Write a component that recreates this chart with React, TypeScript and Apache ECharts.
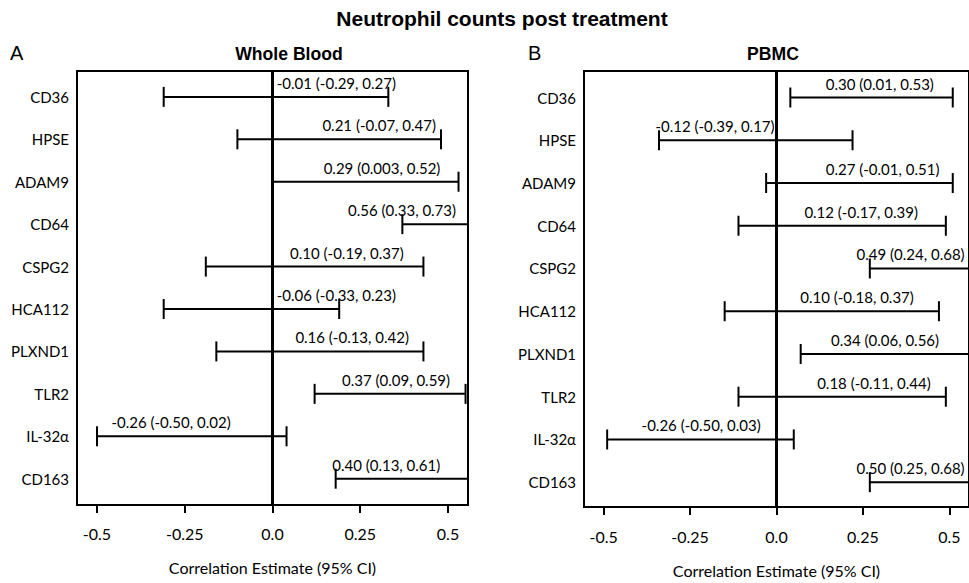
import React, { useEffect, useRef } from "react";
import * as echarts from "echarts";

// ---------- data ----------
const genes = ["CD36", "HPSE", "ADAM9", "CD64", "CSPG2", "HCA112", "PLXND1", "TLR2", "IL-32α", "CD163"];
const xTicks = [-0.5, -0.25, 0, 0.25, 0.5];
const xTickLabels = ["-0.5", "-0.25", "0.0", "0.25", "0.5"];

// Whole Blood: printed estimate and CI text
const wbEstimate = ["-0.01", "0.21", "0.29", "0.56", "0.10", "-0.06", "0.16", "0.37", "-0.26", "0.40"];
const wbCiLow = ["-0.29", "-0.07", "0.003", "0.33", "-0.19", "-0.33", "-0.13", "0.09", "-0.50", "0.13"];
const wbCiHigh = ["0.27", "0.47", "0.52", "0.73", "0.37", "0.23", "0.42", "0.59", "0.02", "0.61"];
// Whole Blood: interval bars as drawn
const wbBarLow = [-0.31, -0.1, 0.0, 0.37, -0.19, -0.31, -0.16, 0.12, -0.5, 0.18];
const wbBarHigh = [0.33, 0.48, 0.53, 0.73, 0.43, 0.19, 0.43, 0.55, 0.04, 0.61];

// PBMC: printed estimate and CI text
const pbEstimate = ["0.30", "-0.12", "0.27", "0.12", "0.49", "0.10", "0.34", "0.18", "-0.26", "0.50"];
const pbCiLow = ["0.01", "-0.39", "-0.01", "-0.17", "0.24", "-0.18", "0.06", "-0.11", "-0.50", "0.25"];
const pbCiHigh = ["0.53", "0.17", "0.51", "0.39", "0.68", "0.37", "0.56", "0.44", "0.03", "0.68"];
// PBMC: interval bars as drawn
const pbBarLow = [0.04, -0.34, -0.03, -0.11, 0.27, -0.15, 0.07, -0.11, -0.49, 0.27];
const pbBarHigh = [0.51, 0.22, 0.51, 0.49, 0.68, 0.47, 0.56, 0.49, 0.05, 0.68];

// ---------- layout (label anchor, in axis units) ----------
const wbLabelX = [0.182, 0.304, 0.312, 0.369, 0.212, 0.182, 0.227, 0.352, -0.289, 0.324];
const pbLabelX = [0.299, -0.178, 0.307, 0.245, 0.388, 0.233, 0.314, 0.282, -0.218, 0.388];

const SANS = "Lato, 'Open Sans', sans-serif";
const ARIAL = "'Liberation Sans', Arial, sans-serif";

function makeText(est: string[], lo: string[], hi: string[]) {
  return est.map((e, i) => `${e} (${lo[i]}, ${hi[i]})`);
}

export default function App() {
  const ref = useRef<HTMLDivElement>(null);
  useEffect(() => {
    if (!ref.current) return;
    const chart = echarts.init(ref.current, undefined, { renderer: "svg" });

    const wbText = makeText(wbEstimate, wbCiLow, wbCiHigh);
    const pbText = makeText(pbEstimate, pbCiLow, pbCiHigh);

    const barRender = (params: any, api: any) => {
      const y = api.value(2);
      const a = api.coord([api.value(0), y]);
      const b = api.coord([api.value(1), y]);
      const h = 10;
      const st = { stroke: "#000", lineWidth: 2 };
      return {
        type: "group",
        children: [
          { type: "line", shape: { x1: a[0], y1: a[1], x2: b[0], y2: b[1] }, style: st },
          { type: "line", shape: { x1: a[0], y1: a[1] - h, x2: a[0], y2: a[1] + h }, style: st },
          { type: "line", shape: { x1: b[0], y1: b[1] - h, x2: b[0], y2: b[1] + h }, style: st },
        ],
      };
    };
    const labelRender = (params: any, api: any) => {
      const p = api.coord([api.value(0), api.value(1)]);
      const txt = params.dataIndex;
      return {
        type: "text",
        x: p[0],
        y: p[1] - 14,
        style: {
          text: (params.seriesIndex === 1 ? wbText : pbText)[txt],
          fill: "#000",
          fontSize: 15,
          fontFamily: SANS,
          align: "center",
          verticalAlign: "middle",
        },
      };
    };

    const xAxisBase = (gridIndex: number, margin: number, gap: number) => ({
      type: "value",
      gridIndex,
      min: -0.557,
      max: 0.557,
      splitLine: { show: false },
      axisLine: { show: true, onZero: false, lineStyle: { color: "#000", width: 2 } },
      axisTick: { show: true, customValues: xTicks, length: 8, lineStyle: { color: "#000", width: 2 } },
      axisLabel: {
        customValues: xTicks,
        formatter: (v: number) => {
          const i = xTicks.findIndex((t) => Math.abs(t - v) < 1e-6);
          return i >= 0 ? xTickLabels[i] : "";
        },
        margin,
        color: "#000",
        fontSize: 16,
        fontFamily: SANS,
      },
      name: "Correlation Estimate (95% CI)",
      nameLocation: "middle",
      nameGap: gap,
      nameTextStyle: { color: "#000", fontSize: 16, fontFamily: SANS },
    });
    const yAxisBase = (gridIndex: number, min: number, max: number) => ({
      type: "value",
      gridIndex,
      inverse: true,
      min,
      max,
      splitLine: { show: false },
      axisLine: { show: false, onZero: false },
      axisTick: { show: false },
      axisLabel: {
        customValues: genes.map((_, i) => i),
        formatter: (v: number) => genes[Math.round(v)] ?? "",
        margin: 8,
        color: "#000",
        fontSize: 15,
        fontFamily: SANS,
      },
    });

    const gridBase = { show: true, borderColor: "#000", borderWidth: 2, backgroundColor: "transparent" };

    chart.setOption({
      animation: false,
      backgroundColor: "#fff",
      grid: [
        { ...gridBase, left: 77, top: 71, width: 391, height: 434 },
        { ...gridBase, left: 584, top: 71, width: 391, height: 436 },
      ],
      xAxis: [xAxisBase(0, 20, 54), xAxisBase(1, 21, 55)],
      yAxis: [yAxisBase(0, -0.61, 9.62), yAxisBase(1, -0.62, 9.58)],
      series: [
        {
          type: "custom",
          xAxisIndex: 0,
          yAxisIndex: 0,
          clip: true,
          renderItem: barRender,
          encode: { x: [0, 1], y: 2 },
          data: wbBarLow.map((lo, i) => [lo, wbBarHigh[i], i]),
          markLine: {
            silent: true,
            symbol: ["none", "none"],
            label: { show: false },
            lineStyle: { color: "#000", width: 3, type: "solid" },
            data: [{ xAxis: 0 }],
          },
        },
        {
          type: "custom",
          xAxisIndex: 0,
          yAxisIndex: 0,
          clip: false,
          renderItem: labelRender,
          encode: { x: 0, y: 1 },
          data: wbLabelX.map((x, i) => [x, i]),
        },
        {
          type: "custom",
          xAxisIndex: 1,
          yAxisIndex: 1,
          clip: true,
          renderItem: barRender,
          encode: { x: [0, 1], y: 2 },
          data: pbBarLow.map((lo, i) => [lo, pbBarHigh[i], i]),
          markLine: {
            silent: true,
            symbol: ["none", "none"],
            label: { show: false },
            lineStyle: { color: "#000", width: 3, type: "solid" },
            data: [{ xAxis: 0 }],
          },
        },
        {
          type: "custom",
          xAxisIndex: 1,
          yAxisIndex: 1,
          clip: false,
          renderItem: labelRender,
          encode: { x: 0, y: 1 },
          data: pbLabelX.map((x, i) => [x, i]),
        },
      ],
      graphic: [
        {
          type: "text",
          x: 502,
          y: 18,
          style: {
            text: "Neutrophil counts post treatment",
            fill: "#000",
            fontSize: 21,
            fontWeight: "bold",
            fontFamily: ARIAL,
            align: "center",
            verticalAlign: "middle",
          },
        },
        {
          type: "text",
          x: 10,
          y: 53,
          style: { text: "A", fill: "#000", fontSize: 20, fontFamily: ARIAL, align: "left", verticalAlign: "middle" },
        },
        {
          type: "text",
          x: 528,
          y: 53,
          style: { text: "B", fill: "#000", fontSize: 20, fontFamily: ARIAL, align: "left", verticalAlign: "middle" },
        },
        {
          type: "text",
          x: 289,
          y: 54,
          style: {
            text: "Whole Blood",
            fill: "#000",
            fontSize: 17.6,
            fontWeight: "bold",
            fontFamily: ARIAL,
            align: "center",
            verticalAlign: "middle",
          },
        },
        {
          type: "text",
          x: 773,
          y: 54,
          style: {
            text: "PBMC",
            fill: "#000",
            fontSize: 17.6,
            fontWeight: "bold",
            fontFamily: ARIAL,
            align: "center",
            verticalAlign: "middle",
          },
        },
      ],
    });
    return () => chart.dispose();
  }, []);
  return (
    <div
      ref={ref}
      style={{ position: "absolute", left: 0, top: 0, width: 969, height: 583, overflow: "hidden" }}
    />
  );
}
